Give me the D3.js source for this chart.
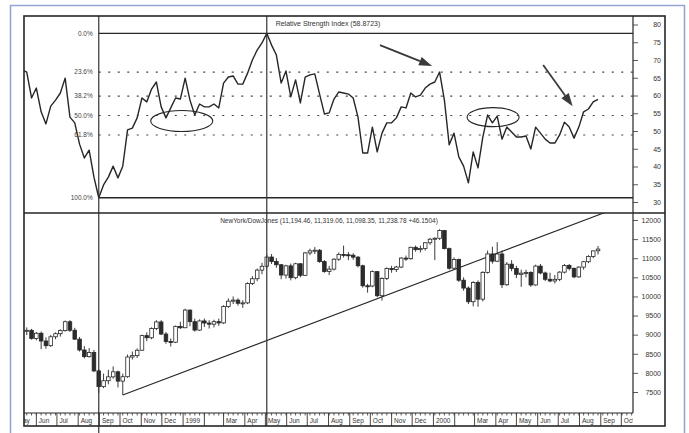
<!DOCTYPE html>
<html>
<head>
<meta charset="utf-8">
<script src="https://cdn.jsdelivr.net/npm/d3@7"></script>
<style>
  body { margin: 0; background: #fff; }
  svg { display: block; font-family: "Liberation Sans", Arial, sans-serif; }
</style>
</head>
<body>
<div id="vis"></div>
<script>
// weekly RSI, first value is the week before the first candle
const rsiValues = [
  67.2, 66.6, 59.3, 62.1, 55.4, 52.0, 57.0, 58.7, 60.7, 64.9,
  53.9, 52.3, 46.3, 42.4, 44.6, 37.0, 31.2, 34.8, 37.0, 40.1,
  36.8, 40.1, 50.3, 50.8, 53.7, 59.3, 58.2, 61.8, 63.8, 56.8,
  53.7, 56.5, 59.3, 59.0, 64.9, 58.7, 54.5, 57.6, 56.8, 56.8,
  57.6, 56.5, 63.5, 65.2, 65.5, 63.2, 63.2, 66.3, 70.0, 72.8,
  74.8, 77.5, 74.2, 71.4, 63.5, 66.9, 59.6, 64.4, 57.9, 65.2,
  65.8, 66.1, 60.4, 54.8, 55.1, 59.0, 61.0, 60.7, 60.4, 59.3,
  53.9, 43.8, 43.8, 51.1, 44.1, 49.4, 52.3, 52.3, 53.7, 56.8,
  56.5, 60.7, 59.6, 60.1, 62.1, 63.2, 63.8, 66.6, 58.7, 46.1,
  49.4, 42.7, 40.1, 35.4, 44.1, 39.6, 48.3, 54.5, 52.3, 54.2,
  47.7, 51.1, 49.7, 48.3, 48.3, 48.6, 44.9, 51.1, 49.4, 47.7,
  46.6, 46.6, 48.9, 52.5, 51.1, 48.0, 51.1, 55.4, 56.2, 58.2,
  58.9
];

// weekly Dow Jones candles, May 1998 - Sep 2000
const opens = [
  9096, 9114, 8900, 9037, 8834, 8712, 8945, 9025, 9106, 9338,
  9116, 8883, 8599, 8425, 8533, 8052, 7640, 7795, 7896, 8028,
  7785, 7900, 8416, 8452, 8592, 8975, 8919, 9160, 9333, 9016,
  8821, 8803, 9217, 9181, 9643, 9340, 9120, 9359, 9304, 9274,
  9340, 9307, 9736, 9876, 9904, 9822, 9832, 10339, 10463, 10689,
  10789, 11031, 10913, 10829, 10560, 10800, 10490, 10855, 10553, 11139,
  11193, 11209, 10911, 10655, 10714, 10974, 11100, 11090, 11079, 11028,
  10803, 10279, 10273, 10649, 10019, 10470, 10730, 10704, 10770, 11003,
  10988, 11286, 11224, 11257, 11405, 11497, 11522, 11723, 11251, 10739,
  10964, 10425, 10219, 9862, 10367, 9929, 10630, 11112, 10922, 11111,
  10306, 10844, 10734, 10578, 10609, 10627, 10300, 10794, 10614, 10449,
  10405, 10448, 10636, 10812, 10733, 10512, 10767, 10908, 11046, 11194.46
];
const highs = [
  9190, 9150, 9070, 9080, 8930, 8990, 9060, 9140, 9370, 9380,
  9180, 8940, 8700, 8650, 8600, 8100, 7980, 8080, 8170, 8060,
  7980, 8480, 8560, 8640, 9000, 9060, 9190, 9380, 9380, 9070,
  8900, 9240, 9340, 9680, 9660, 9420, 9400, 9420, 9380, 9390,
  9420, 9770, 9950, 10000, 9950, 9900, 10370, 10530, 10730, 10880,
  11100, 11110, 11000, 10850, 10830, 10860, 10880, 10870, 11160, 11250,
  11290, 11240, 10950, 10800, 11000, 11150, 11330, 11160, 11130, 11060,
  10830, 10330, 10680, 10660, 10500, 10760, 10800, 10800, 11030, 11070,
  11300, 11330, 11330, 11420, 11530, 11550, 11760, 11730, 11280, 11020,
  10990, 10500, 10260, 10400, 10420, 10660, 11200, 11300, 11420, 11200,
  10900, 10950, 10800, 10700, 10700, 10660, 10830, 10850, 10650, 10620,
  10560, 10660, 10850, 10850, 10760, 10790, 10930, 11080, 11200, 11319.06
];
const lows = [
  8990, 8870, 8850, 8620, 8630, 8680, 8880, 8950, 9080, 9070,
  8860, 8560, 8380, 8400, 8020, 7480, 7600, 7700, 7850, 7620,
  7420, 7870, 8350, 8390, 8580, 8830, 8880, 9120, 8990, 8760,
  8690, 8780, 9150, 9170, 9220, 9080, 9100, 9200, 9160, 9190,
  9230, 9280, 9700, 9800, 9760, 9700, 9800, 10300, 10400, 10580,
  10740, 10850, 10750, 10450, 10470, 10420, 10450, 10500, 10540, 11080,
  11110, 10880, 10620, 10560, 10680, 10930, 11020, 10950, 10960, 10760,
  10230, 10100, 10240, 9980, 9890, 10430, 10620, 10640, 10740, 10930,
  10960, 11170, 11150, 11200, 11350, 10950, 11480, 11230, 10700, 10700,
  10380, 10150, 9800, 9740, 9730, 9870, 10600, 10860, 10900, 10220,
  10280, 10660, 10480, 10250, 10500, 10250, 10280, 10580, 10400, 10370,
  10340, 10400, 10600, 10680, 10480, 10490, 10700, 10870, 11000, 11098.35
];
const closes = [
  9114, 8900, 9037, 8834, 8712, 8945, 9025, 9106, 9338, 9116,
  8883, 8599, 8425, 8533, 8052, 7640, 7795, 7896, 8028, 7785,
  7900, 8416, 8452, 8592, 8975, 8919, 9160, 9333, 9016, 8821,
  8803, 9217, 9181, 9643, 9340, 9120, 9359, 9304, 9274, 9340,
  9307, 9736, 9876, 9904, 9822, 9832, 10339, 10463, 10689, 10789,
  11031, 10913, 10829, 10560, 10800, 10490, 10855, 10553, 11139, 11193,
  11209, 10911, 10655, 10714, 10974, 11100, 11090, 11079, 11028, 10803,
  10279, 10273, 10649, 10019, 10470, 10730, 10704, 10770, 11003, 10988,
  11286, 11224, 11257, 11405, 11497, 11522, 11723, 11251, 10739, 10964,
  10425, 10219, 9862, 10367, 9929, 10630, 11112, 10922, 11111, 10306,
  10844, 10734, 10578, 10609, 10627, 10300, 10794, 10614, 10449, 10405,
  10448, 10636, 10812, 10733, 10512, 10767, 10908, 11046, 11192, 11238.78
];

const fibLevels = [0, 23.6, 38.2, 50, 61.8, 100];
const rsiTicks = [30, 35, 40, 45, 50, 55, 60, 65, 70, 75, 80];
const priceTicks = [7500, 8000, 8500, 9000, 9500, 10000, 10500, 11000, 11500, 12000];
const monthLabels = ['', '', 'Mar', 'Apr', 'May', 'Jun', 'Jul', 'Aug', 'Sep', 'Oct', 'Nov', 'Dec'];

// trendline through the Oct 1998 low, annotations on the RSI pane
const trendPoints = [['1998-10-05', 7420], ['1999-08-17', 9567]];
const ellipseCenters = [['1998-12-30', 52.8], ['2000-03-28', 53.9]];
const arrowStarts = [['1999-10-15', 74.2], ['2000-06-09', 68.6]];
const arrowEnds = [['1999-12-30', 68.3], ['2000-07-22', 57.0]];

const rsiTitle = 'Relative Strength Index (58.8723)';
const priceTitle = 'NewYork/DowJones (11,194.46, 11,319.06, 11,098.35, 11,238.78 +46.1504)';

const W = 689, H = 433;
const frameL = 24, frameR = 665, frameT = 16, frameB = 426;
const plotRight = 633, split = 213, stripTop = 413;
const ink = '#262626';

const parse = d3.timeParse('%Y-%m-%d');
const candleWeeks = d3.timeMonday.range(new Date(1998, 4, 18), new Date(2000, 8, 1));
const rsiWeeks = d3.timeMonday.range(new Date(1998, 4, 11), new Date(2000, 8, 1));

const x = d3.scaleTime()
    .domain([new Date(1998, 4, 14), new Date(2000, 9, 18)])
    .range([frameL, plotRight]);
const yR = d3.scaleLinear().domain([30, 80]).range([202, 24.5]);
const yP = d3.scaleLinear().domain([7500, 12000]).range([392, 220]);

const svg = d3.select('#vis').append('svg')
    .attr('width', W)
    .attr('height', H);

const defs = svg.append('defs');
defs.append('clipPath').attr('id', 'clipR').append('rect')
    .attr('x', frameL).attr('y', frameT).attr('width', plotRight - frameL).attr('height', split - frameT);
defs.append('clipPath').attr('id', 'clipP').append('rect')
    .attr('x', frameL).attr('y', split).attr('width', plotRight - frameL).attr('height', stripTop - split);
defs.append('clipPath').attr('id', 'clipX').append('rect')
    .attr('x', frameL).attr('y', stripTop).attr('width', plotRight - frameL).attr('height', frameB - stripTop);

// light blue page border
svg.append('path')
    .attr('d', `M10.5,${H} V5.5 H684.5 V${H}`)
    .attr('fill', 'none')
    .attr('stroke', '#97a4d6')
    .attr('stroke-width', 1.6);

// ---- RSI pane ----
const rsiG = svg.append('g').attr('clip-path', 'url(#clipR)');

const iLo = d3.minIndex(rsiValues);
const iHi = d3.maxIndex(rsiValues);
const lo = rsiValues[iLo], hi = rsiValues[iHi];
const xLo = x(rsiWeeks[iLo]), xHi = x(rsiWeeks[iHi]);

fibLevels.forEach(p => {
    const yy = yR(hi - p / 100 * (hi - lo));
    const solid = p === 0 || p === 100;
    svg.append('line')
        .attr('x1', xLo).attr('x2', plotRight)
        .attr('y1', yy).attr('y2', yy)
        .attr('stroke', solid ? ink : '#444')
        .attr('stroke-width', solid ? 1.3 : 1.1)
        .attr('stroke-dasharray', solid ? null : '2,7.5');
    svg.append('text')
        .attr('x', xLo - 6).attr('y', yy)
        .attr('dy', '0.35em')
        .attr('text-anchor', 'end')
        .attr('font-size', 6.5)
        .attr('fill', '#444')
        .text(p.toFixed(1) + '%');
});

rsiG.append('path')
    .datum(rsiValues)
    .attr('fill', 'none')
    .attr('stroke', ink)
    .attr('stroke-width', 1.4)
    .attr('stroke-linejoin', 'round')
    .attr('d', d3.line().x((d, i) => x(rsiWeeks[i])).y(d => yR(d)));

svg.append('text')
    .attr('x', 328).attr('y', 25.5)
    .attr('text-anchor', 'middle')
    .attr('font-size', 7)
    .attr('fill', '#333')
    .text(rsiTitle);

// ellipses
ellipseCenters.forEach((c, i) => {
    svg.append('ellipse')
        .attr('cx', x(parse(c[0])))
        .attr('cy', yR(c[1]))
        .attr('rx', i === 0 ? 31 : 26)
        .attr('ry', i === 0 ? 10.5 : 9.5)
        .attr('fill', 'none')
        .attr('stroke', ink)
        .attr('stroke-width', 1.1);
});

// arrows
arrowStarts.forEach((s, i) => {
    const e = arrowEnds[i];
    const x0 = x(parse(s[0])), y0 = yR(s[1]);
    const x1 = x(parse(e[0])), y1 = yR(e[1]);
    const a = Math.atan2(y1 - y0, x1 - x0);
    const len = 13, half = 4.5;
    const bx = x1 - len * Math.cos(a), by = y1 - len * Math.sin(a);
    svg.append('line')
        .attr('x1', x0).attr('y1', y0).attr('x2', bx).attr('y2', by)
        .attr('stroke', '#3a3a3a').attr('stroke-width', 1.8);
    svg.append('path')
        .attr('d', `M${x1},${y1} L${bx + half * Math.sin(a)},${by - half * Math.cos(a)} L${bx - half * Math.sin(a)},${by + half * Math.cos(a)} Z`)
        .attr('fill', '#3a3a3a');
});

// ---- price pane ----
const priceG = svg.append('g').attr('clip-path', 'url(#clipP)');

const t0 = parse(trendPoints[0][0]), t1 = parse(trendPoints[1][0]);
const slope = (trendPoints[1][1] - trendPoints[0][1]) / (t1 - t0);
const tEnd = x.domain()[1];
priceG.append('line')
    .attr('x1', x(t0)).attr('y1', yP(trendPoints[0][1]))
    .attr('x2', x(tEnd)).attr('y2', yP(trendPoints[0][1] + slope * (tEnd - t0)))
    .attr('stroke', ink)
    .attr('stroke-width', 1.1);

const candles = priceG.selectAll('g.candle')
    .data(candleWeeks)
    .join('g')
    .attr('class', 'candle');

candles.append('line')
    .attr('x1', d => x(d)).attr('x2', d => x(d))
    .attr('y1', (d, i) => yP(highs[i]))
    .attr('y2', (d, i) => yP(lows[i]))
    .attr('stroke', ink)
    .attr('stroke-width', 0.9);

candles.append('rect')
    .attr('x', d => x(d) - 1.8)
    .attr('width', 3.6)
    .attr('y', (d, i) => yP(Math.max(opens[i], closes[i])))
    .attr('height', (d, i) => Math.max(1, Math.abs(yP(opens[i]) - yP(closes[i]))))
    .attr('fill', (d, i) => closes[i] >= opens[i] ? '#fff' : '#2b2b2b')
    .attr('stroke', ink)
    .attr('stroke-width', 0.8);

svg.append('text')
    .attr('x', 329).attr('y', 222.5)
    .attr('text-anchor', 'middle')
    .attr('font-size', 6.5)
    .attr('fill', '#333')
    .text(priceTitle);

// vertical markers at the RSI low and high
svg.append('line')
    .attr('x1', xLo).attr('x2', xLo)
    .attr('y1', frameT).attr('y2', H)
    .attr('stroke', '#333')
    .attr('stroke-width', 1.2);
svg.append('line')
    .attr('x1', xHi).attr('x2', xHi)
    .attr('y1', frameT).attr('y2', frameB)
    .attr('stroke', '#333')
    .attr('stroke-width', 1.2);

// ---- right axes ----
const rsiMinor = d3.range(28, 81, 1);
const priceMinor = d3.range(6900, 12200, 100);

function ruler(scale, minor, ticks, fmt) {
    const g = svg.append('g').attr('transform', `translate(${plotRight},0)`);
    g.call(d3.axisRight(scale).tickValues(minor).tickSize(2.5).tickFormat(''));
    g.call(d3.axisRight(scale).tickValues(ticks).tickSize(5).tickFormat(fmt));
    g.selectAll('.domain').remove();
    g.selectAll('line').attr('stroke', '#333').attr('stroke-width', 0.8);
    g.selectAll('text')
        .attr('x', 28)
        .attr('text-anchor', 'end')
        .attr('font-size', 7)
        .attr('fill', '#333')
        .attr('font-family', '"Liberation Sans", Arial, sans-serif');
}
ruler(yR, rsiMinor.filter(v => yR(v) > frameT + 1 && yR(v) < split - 1), rsiTicks, d3.format('d'));
ruler(yP, priceMinor.filter(v => yP(v) > split + 1 && yP(v) < stripTop - 2), priceTicks, d3.format('d'));

// ---- month strip ----
const xG = svg.append('g').attr('clip-path', 'url(#clipX)');
const months = d3.timeMonth.range(new Date(1998, 4, 1), new Date(2000, 10, 1));

xG.selectAll('line.wk')
    .data(d3.timeMonday.range(new Date(1998, 4, 4), new Date(2000, 9, 20)))
    .join('line')
    .attr('class', 'wk')
    .attr('x1', d => x(d)).attr('x2', d => x(d))
    .attr('y1', stripTop).attr('y2', stripTop + 2.5)
    .attr('stroke', '#333').attr('stroke-width', 0.8);

xG.selectAll('line.mo')
    .data(months)
    .join('line')
    .attr('class', 'mo')
    .attr('x1', d => x(d)).attr('x2', d => x(d))
    .attr('y1', stripTop).attr('y2', frameB)
    .attr('stroke', '#333').attr('stroke-width', 0.9);

xG.selectAll('text')
    .data(months)
    .join('text')
    .attr('x', d => x(d) + 2.5)
    .attr('y', 422.5)
    .attr('font-size', 6.5)
    .attr('fill', '#333')
    .text(d => d.getMonth() === 0 ? d.getFullYear() : monthLabels[d.getMonth()]);

// ---- frame ----
svg.append('rect')
    .attr('x', frameL).attr('y', frameT)
    .attr('width', frameR - frameL).attr('height', frameB - frameT)
    .attr('fill', 'none').attr('stroke', ink).attr('stroke-width', 1.6);
svg.append('line')
    .attr('x1', frameL).attr('x2', frameR).attr('y1', split).attr('y2', split)
    .attr('stroke', ink).attr('stroke-width', 1.3);
svg.append('line')
    .attr('x1', frameL).attr('x2', plotRight).attr('y1', stripTop).attr('y2', stripTop)
    .attr('stroke', ink).attr('stroke-width', 1);
svg.append('line')
    .attr('x1', plotRight).attr('x2', plotRight).attr('y1', frameT).attr('y2', stripTop)
    .attr('stroke', ink).attr('stroke-width', 1.2);
</script>
</body>
</html>
